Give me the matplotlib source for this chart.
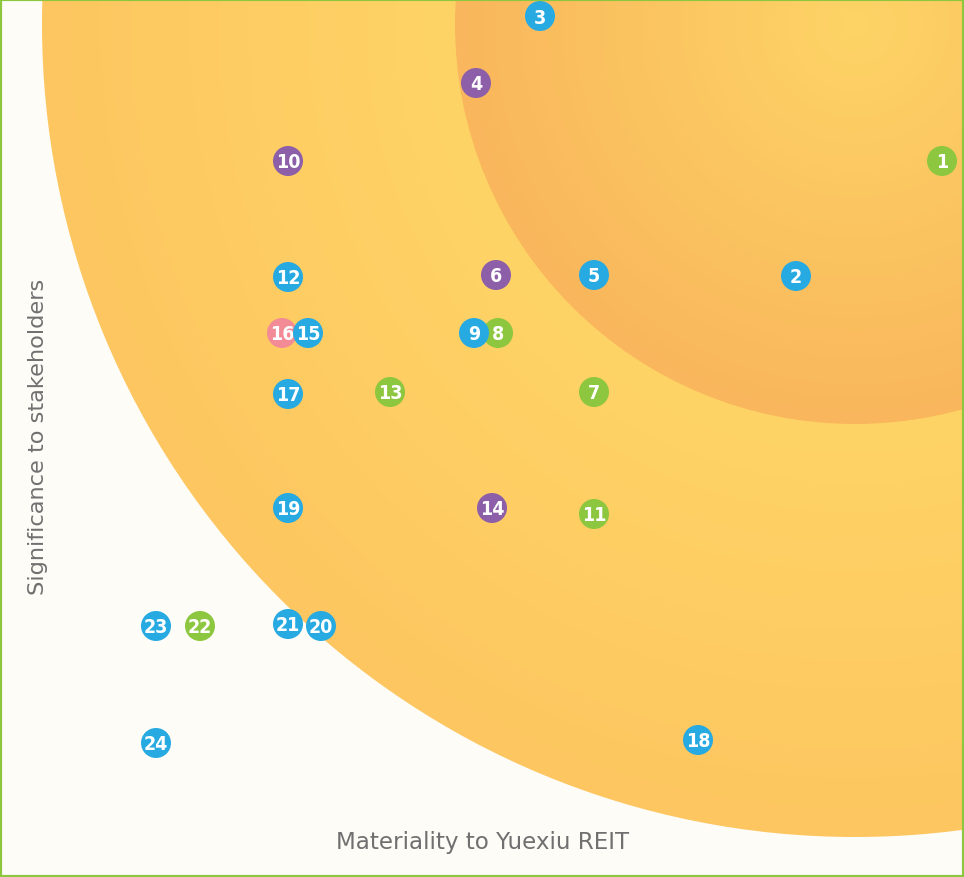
import numpy as np
import matplotlib
matplotlib.use("Agg")
from matplotlib import pyplot as plt
from matplotlib.patches import Circle, Rectangle

# issue ids and positions on the matrix (pixel-like units, y grows downward)
ids = list(range(1, 25))
materiality = [942, 796, 540, 476, 594, 496, 594, 498, 474, 288, 594, 288,
               390, 492, 308, 282, 288, 698, 288, 321, 288, 200, 156, 156]
significance = [162, 277, 17, 84, 276, 276, 393, 334, 334, 162, 515, 278,
                393, 509, 334, 334, 395, 741, 509, 627, 625, 627, 627, 744]
groups = ["g", "b", "b", "p", "b", "p", "g", "g", "b", "p", "g", "b",
          "g", "p", "b", "r", "b", "b", "b", "b", "b", "g", "b", "b"]
on_top = [9, 15]

group_colors = {"b": "#27AAE1", "g": "#8DC63F", "p": "#8C5FA8", "r": "#F28B95"}

W, H = 964, 878
fig = plt.figure(figsize=(W / 100, H / 100), dpi=100)
fig.patch.set_facecolor("#FDFCF7")
ax = fig.add_axes([0, 0, 1, 1])
ax.set_xlim(0, W)
ax.set_ylim(H, 0)
ax.set_aspect("equal")
ax.axis("off")

# radial gradient fills for the two zones
cx, cy = 855, 25
xx, yy = np.meshgrid(np.arange(W) + 0.5, np.arange(H) + 0.5)
dist = np.hypot(xx - cx, yy - cy)


def gradient(c0, c1, r0, r1, gamma=1.0):
    t = np.clip((dist - r0) / (r1 - r0), 0, 1)[..., None] ** gamma
    a = np.array(matplotlib.colors.to_rgb(c0))
    b = np.array(matplotlib.colors.to_rgb(c1))
    return a * (1 - t) + b * t


zones = [(813, gradient("#FFD466", "#FDC660", 400, 813), 1),
         (400, gradient("#FED466", "#F9B65C", 0, 400), 2)]
for r, rgb, z in zones:
    img = ax.imshow(rgb, extent=(0, W, H, 0), zorder=z, interpolation="bilinear")
    img.set_clip_path(Circle((cx, cy), r, transform=ax.transData))

ax.set_xlim(0, W)
ax.set_ylim(H, 0)

for i, x, y, g in zip(ids, materiality, significance, groups):
    z = 6 if i in on_top else 4
    ax.add_patch(Circle((x, y), 15, color=group_colors[g], ec="none", zorder=z))
    ax.text(x, y + 1, str(i), color="white", fontsize=14, fontweight="bold",
            family="DejaVu Sans", fontstretch="condensed",
            ha="center", va="center", zorder=z + 0.5)

ax.text(483, 843, "Materiality to Yuexiu REIT", color="#707070", fontsize=16.6,
        ha="center", va="center", zorder=7)
ax.text(38, 437, "Significance to stakeholders", color="#707070", fontsize=16.2,
        ha="center", va="center", rotation=90, zorder=7)

fig.patches.append(Rectangle((0, 0), 1, 1, transform=fig.transFigure, fill=False,
                             edgecolor="#8DC63F", linewidth=3, zorder=10))

fig.savefig("out.png", dpi=100, facecolor=fig.get_facecolor())
